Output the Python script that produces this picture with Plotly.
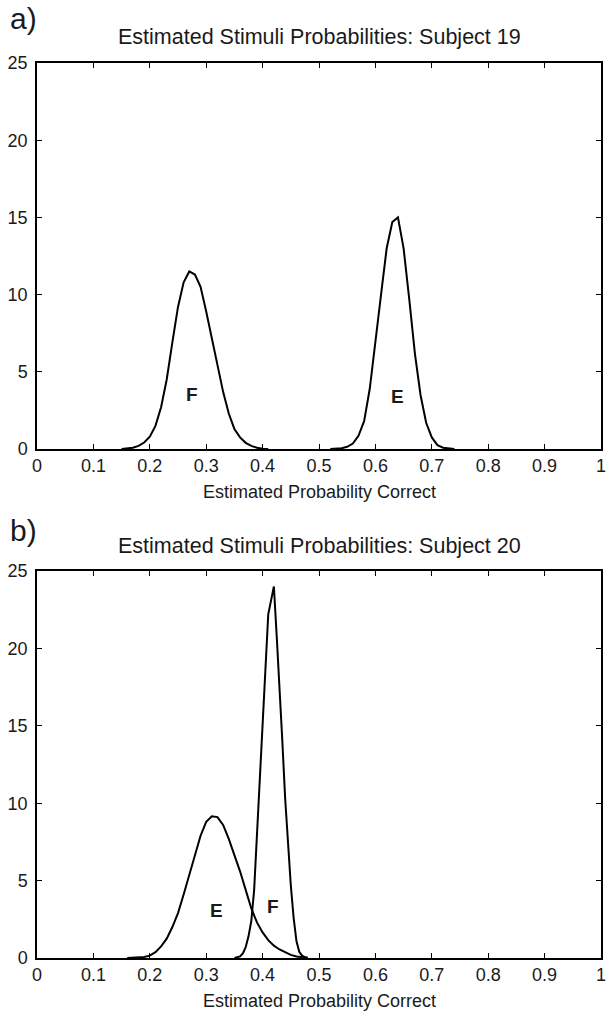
import plotly.graph_objects as go

# ---------------- data ----------------
tick_vals = [0, 0.1, 0.2, 0.3, 0.4, 0.5, 0.6, 0.7, 0.8, 0.9, 1]
tick_text = ["0", "0.1", "0.2", "0.3", "0.4", "0.5", "0.6", "0.7", "0.8", "0.9", "1"]
y_ticks = [0, 5, 10, 15, 20, 25]

# Subject 19, stimulus F
a_F_x = [0.15, 0.16, 0.17, 0.18, 0.19, 0.20, 0.21, 0.22, 0.23, 0.24, 0.25, 0.26, 0.27,
         0.28, 0.29, 0.30, 0.31, 0.32, 0.33, 0.34, 0.35, 0.36, 0.37, 0.38, 0.39, 0.40, 0.41]
a_F_y = [0.0, 0.02, 0.08, 0.2, 0.42, 0.8, 1.5, 2.7, 4.5, 6.9, 9.2, 10.8, 11.5,
         11.3, 10.5, 8.9, 7.1, 5.3, 3.7, 2.3, 1.3, 0.75, 0.4, 0.2, 0.08, 0.02, 0.0]

# Subject 19, stimulus E
a_E_x = [0.52, 0.53, 0.54, 0.55, 0.56, 0.57, 0.58, 0.59, 0.60, 0.61, 0.62, 0.63,
         0.64, 0.65, 0.66, 0.67, 0.68, 0.69, 0.70, 0.71, 0.72, 0.73, 0.74]
a_E_y = [0.0, 0.01, 0.05, 0.14, 0.35, 0.85, 1.8, 3.9, 6.8, 10.0, 13.0, 14.7,
         15.0, 13.0, 9.7, 6.2, 3.5, 1.7, 0.75, 0.25, 0.08, 0.02, 0.0]

# Subject 20, stimulus E
b_E_x = [0.16, 0.17, 0.18, 0.19, 0.20, 0.21, 0.22, 0.23, 0.24, 0.25, 0.26, 0.27, 0.28,
         0.29, 0.30, 0.31, 0.32, 0.33, 0.34, 0.35, 0.36, 0.37, 0.38, 0.39, 0.40, 0.41,
         0.42, 0.43, 0.44, 0.45, 0.46, 0.47, 0.48]
b_E_y = [0.0, 0.01, 0.03, 0.07, 0.15, 0.38, 0.75, 1.25, 2.0, 2.9, 4.1, 5.4, 6.7,
         7.9, 8.8, 9.15, 9.1, 8.6, 7.7, 6.7, 5.6, 4.4, 3.2, 2.3, 1.65, 1.15,
         0.8, 0.55, 0.35, 0.2, 0.1, 0.05, 0.01]

# Subject 20, stimulus F
b_F_x = [0.350, 0.355, 0.360, 0.365, 0.370, 0.375, 0.380, 0.385, 0.390, 0.395, 0.400,
         0.405, 0.410, 0.415, 0.420, 0.425, 0.430, 0.435, 0.440, 0.445, 0.450, 0.455,
         0.460, 0.465, 0.470, 0.475, 0.480]
b_F_y = [0.0, 0.03, 0.1, 0.3, 0.7, 1.4, 2.4, 4.4, 7.8, 11.4, 15.0,
         18.6, 22.2, 23.1, 24.0, 20.8, 17.7, 14.0, 10.3, 7.3, 4.7, 2.6,
         1.1, 0.4, 0.15, 0.05, 0.0]

titles = ["Estimated Stimuli Probabilities: Subject 19",
          "Estimated Stimuli Probabilities: Subject 20"]
panel_tags = ["a)", "b)"]
x_title = "Estimated Probability Correct"
curve_labels = [  # (panel, text, x, y)
    (1, "F", 0.275, 3.5), (1, "E", 0.639, 3.4),
    (2, "E", 0.318, 3.1), (2, "F", 0.419, 3.3),
]

# ---------------- figure ----------------
W, H = 611, 1014
ML, MR, MT, MB = 37, 5, 63, 56
plot_w = W - ML - MR
plot_h = H - MT - MB
bottom_px = H - MB


def py(p):
    return (bottom_px - p) / plot_h


FONT = "Liberation Sans, Arial, Helvetica, sans-serif"
INK = "#1a1a1a"
line = dict(color="black", width=2)

fig = go.Figure()
fig.add_trace(go.Scatter(x=a_F_x, y=a_F_y, mode="lines", line=line, xaxis="x", yaxis="y", showlegend=False))
fig.add_trace(go.Scatter(x=a_E_x, y=a_E_y, mode="lines", line=line, xaxis="x", yaxis="y", showlegend=False))
fig.add_trace(go.Scatter(x=b_E_x, y=b_E_y, mode="lines", line=line, xaxis="x2", yaxis="y2", showlegend=False))
fig.add_trace(go.Scatter(x=b_F_x, y=b_F_y, mode="lines", line=line, xaxis="x2", yaxis="y2", showlegend=False))

axis_common = dict(
    showline=True, linecolor="black", linewidth=1.5, mirror="ticks",
    ticks="inside", ticklen=5, tickwidth=1.3, tickcolor="black",
    showgrid=False, zeroline=False,
    tickfont=dict(family=FONT, size=18, color=INK),
)
xa = dict(axis_common, range=[0, 1], tickvals=tick_vals, ticktext=tick_text)
ya = dict(axis_common, range=[0, 25], tickvals=y_ticks, ticklabelstandoff=4)

dom_a = [py(449), 1.0]
dom_b = [0.0, py(571)]

fig.update_layout(
    width=W, height=H,
    margin=dict(l=ML, r=MR, t=MT, b=MB),
    paper_bgcolor="white", plot_bgcolor="white",
    font=dict(family=FONT, color=INK),
    xaxis=dict(xa, domain=[0, 1], anchor="y"),
    yaxis=dict(ya, domain=dom_a, anchor="x"),
    xaxis2=dict(xa, domain=[0, 1], anchor="y2"),
    yaxis2=dict(ya, domain=dom_b, anchor="x2"),
)

ann = []
for tag, ttl, tag_px, ttl_px in [(panel_tags[0], titles[0], 18, 37),
                                 (panel_tags[1], titles[1], 530, 546)]:
    ann.append(dict(text=tag, xref="paper", yref="paper", x=(8 - ML) / plot_w, y=py(tag_px),
                    xanchor="left", yanchor="middle", showarrow=False,
                    font=dict(family=FONT, size=30, color=INK)))
    ann.append(dict(text=ttl, xref="paper", yref="paper", x=0.5, y=py(ttl_px),
                    xanchor="center", yanchor="middle", showarrow=False,
                    font=dict(family=FONT, size=21.5, color=INK)))
for p in (492, 1001):
    ann.append(dict(text=x_title, xref="paper", yref="paper", x=0.5, y=py(p),
                    xanchor="center", yanchor="middle", showarrow=False,
                    font=dict(family=FONT, size=18, color=INK)))
for panel, txt, lx, ly in curve_labels:
    ann.append(dict(text="<b>%s</b>" % txt, xref="x" if panel == 1 else "x2",
                    yref="y" if panel == 1 else "y2", x=lx, y=ly,
                    xanchor="center", yanchor="middle", showarrow=False,
                    font=dict(family=FONT, size=19, color=INK)))
fig.update_layout(annotations=ann)

fig.write_html(
    "out.html",
    config={"displayModeBar": False},
    post_script="document.body.style.margin='0';document.body.style.overflow='hidden';",
)
